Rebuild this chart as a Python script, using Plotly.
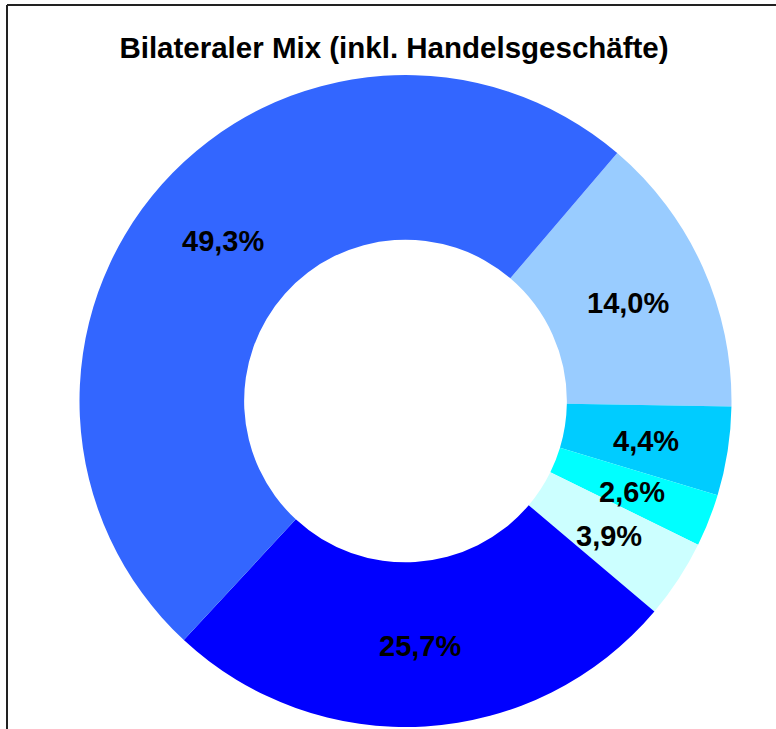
import math
import plotly.graph_objects as go

W, H = 776, 729

categories = ["Segment A", "Segment B", "Segment C", "Segment D", "Segment E", "Segment F"]
values = [14.0, 4.4, 2.6, 3.9, 25.7, 49.3]
colors = ["#99CCFF", "#00CCFF", "#00FFFF", "#CCFFFF", "#0000FF", "#3366FF"]
labels_text = [f"{v:.1f}%".replace(".", ",") for v in values]

ROTATION = 40.5
HOLE = 0.495
# pie domain in pixels (left, right, top, bottom)
px_l, px_r, px_t, px_b = 79.5, 731.5, 75, 727
dom_x = [px_l / W, px_r / W]
dom_y = [1 - px_b / H, 1 - px_t / H]

fig = go.Figure(go.Pie(
    labels=categories,
    values=values,
    textinfo="none",
    marker=dict(colors=colors, line=dict(width=0)),
    hole=HOLE,
    sort=False,
    direction="clockwise",
    rotation=ROTATION,
    showlegend=False,
    domain=dict(x=dom_x, y=dom_y),
))

# labels at mid-radius of each ring slice, derived from the values
cx = (px_l + px_r) / 2
cy = (px_t + px_b) / 2
R = min(px_r - px_l, px_b - px_t) / 2
r_mid = R * (1 + HOLE) / 2
total = sum(values)
cum = 0.0
annotations = []
for v, t in zip(values, labels_text):
    mid = math.radians(ROTATION + (cum + v / 2) / total * 360)
    cum += v
    x = cx + r_mid * math.sin(mid)
    y = cy - r_mid * math.cos(mid) + 2
    annotations.append(dict(
        x=x / W, y=1 - y / H, xref="paper", yref="paper",
        text=f"<b>{t}</b>", showarrow=False, xanchor="center", yanchor="middle",
        font=dict(family="Liberation Sans, Arial, sans-serif", size=29, color="black"),
    ))

fig.update_layout(
    width=W, height=H,
    margin=dict(l=0, r=0, t=0, b=0),
    paper_bgcolor="white",
    plot_bgcolor="white",
    title=dict(
        text="<b>Bilateraler Mix (inkl. Handelsgeschäfte)</b>",
        x=394 / W, xanchor="center",
        y=1 - 48 / H, yanchor="middle", yref="container",
        font=dict(family="Liberation Sans, Arial, sans-serif", size=29.5, color="black"),
    ),
    annotations=annotations,
    shapes=[
        dict(type="line", xref="paper", yref="paper", x0=7 / W, x1=1.01, y0=1 - 5 / H, y1=1 - 5 / H,
             line=dict(color="#222222", width=2)),
        dict(type="line", xref="paper", yref="paper", x0=7 / W, x1=7 / W, y0=-0.01, y1=1 - 5 / H,
             line=dict(color="#222222", width=2)),
    ],
)

fig.write_html("out.html", config={"displayModeBar": False},
               post_script="document.body.style.margin='0';")
